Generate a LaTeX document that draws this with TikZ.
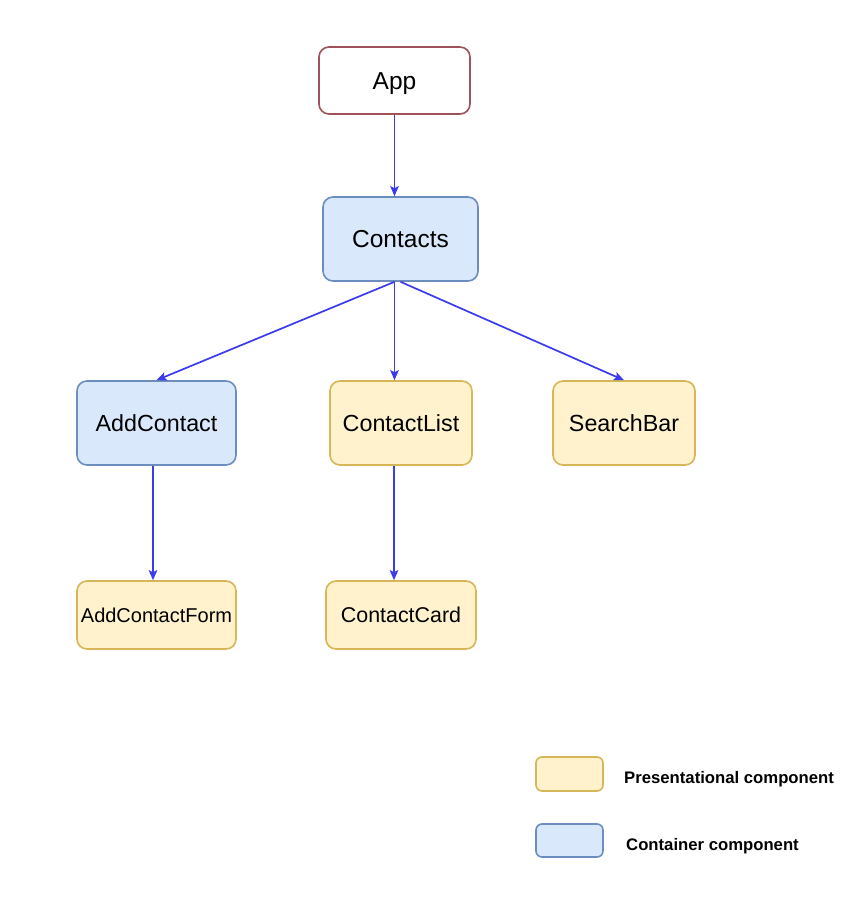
\documentclass[tikz,border=0pt]{standalone}
\usepackage{fontspec}
\setmainfont{Liberation Sans}
\usetikzlibrary{arrows.meta,calc}
\definecolor{yfill}{HTML}{FFF2CC}
\definecolor{ydraw}{HTML}{D6B656}
\definecolor{bfill}{HTML}{DAE8FC}
\definecolor{bdraw}{HTML}{6C8EBF}
\definecolor{rdraw}{HTML}{A0525A}
\definecolor{arr}{HTML}{3A3AEE}
\tikzset{
  box/.style={rounded corners=10pt, line width=1.6pt, inner sep=0pt, align=center, text depth=0pt, text height=16.8pt, font=\fontsize{23.3}{27}\selectfont},
  pres/.style={box, fill=yfill, draw=ydraw},
  cont/.style={box, fill=bfill, draw=bdraw},
  root/.style={box, fill=white, draw=rdraw},
  link/.style={draw=arr, line width=1.7pt, -{Stealth[length=10pt,width=8.5pt,inset=2pt]}},
  legtext/.style={anchor=west, inner sep=0pt, text height=12pt, text depth=0pt, font=\fontsize{16.7}{20}\selectfont\bfseries}
}
\begin{document}
\begin{tikzpicture}[x=1pt,y=-1pt]
\useasboundingbox (0,0) rectangle (850,901);
\node[root, minimum width=151pt, minimum height=67pt, text height=17.6pt, font=\fontsize{24.5}{28}\selectfont] (app) at (394.5,80.5) {App};
\node[cont, minimum width=155pt, minimum height=84pt, text height=17.6pt, font=\fontsize{24.5}{28}\selectfont] (contacts) at (400.5,239) {Contacts};
\node[cont, minimum width=159pt, minimum height=84pt] (addcontact) at (156.5,423) {AddContact};
\node[pres, minimum width=142pt, minimum height=84pt] (contactlist) at (401,423) {ContactList};
\node[pres, minimum width=142pt, minimum height=84pt] (searchbar) at (624,423) {SearchBar};
\node[pres, minimum width=159pt, minimum height=68pt, text height=14.4pt, font=\fontsize{20}{24}\selectfont] (addform) at (156.5,615) {AddContactForm};
\node[pres, minimum width=150pt, minimum height=68pt, text height=15.4pt, font=\fontsize{21.4}{25}\selectfont] (contactcard) at (401,615) {ContactCard};

\coordinate (cs) at ($(contacts.south)+(-6,0)$);
\draw[link] (app.south) -- (app.south |- contacts.north);
\draw[link] (cs) -- (addcontact.north);
\draw[link] (cs) -- (cs |- contactlist.north);
\draw[link] (contacts.south) -- (searchbar.north);
\coordinate (as) at ($(addcontact.south)+(-3.5,0)$);
\draw[link] (as) -- (as |- addform.north);
\coordinate (ls) at ($(contactlist.south)+(-7,0)$);
\draw[link] (ls) -- (ls |- contactcard.north);

\node[pres, minimum width=67pt, minimum height=34pt, rounded corners=6pt] (legp) at (569.5,774) {};
\node[cont, minimum width=67pt, minimum height=33pt, rounded corners=6pt] (legc) at (569.5,840.5) {};
\node[legtext] (legptext) at (624,777) {Presentational component};
\node[legtext] (legctext) at (626,844) {Container component};
\end{tikzpicture}
\end{document}
